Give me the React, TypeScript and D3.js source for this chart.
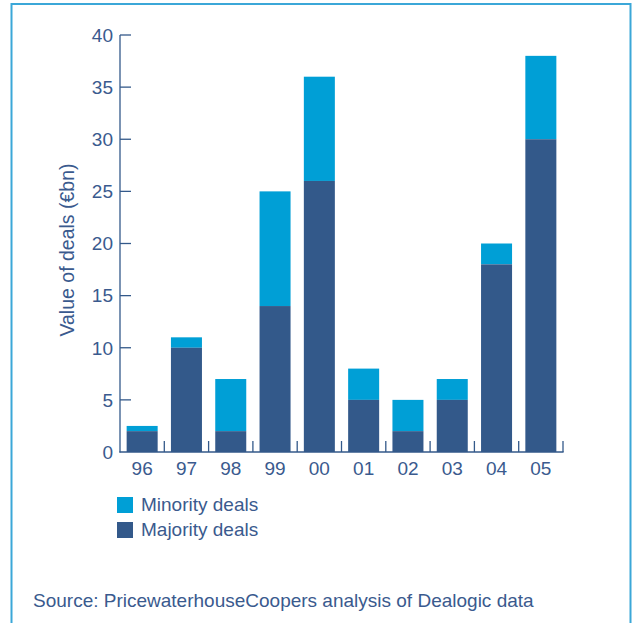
import React from "react";
import * as d3 from "d3";

const years = ["96", "97", "98", "99", "00", "01", "02", "03", "04", "05"];
const majority = [2, 10, 2, 14, 26, 5, 2, 5, 18, 30];
const totals = [2.5, 11, 7, 25, 36, 8, 5, 7, 20, 38];
const yTicks = [0, 5, 10, 15, 20, 25, 30, 35, 40];
const legendLabels = ["Minority deals", "Majority deals"];

const W = 634;
const H = 623;
const TEXT = "#3a5a8e";
const MINOR = "#009fd6";
const MAJOR = "#33598a";
const FONT = "'Liberation Sans', Arial, Helvetica, sans-serif";

export default function App() {
  const x = d3.scaleBand<string>().domain(years).range([120, 563]).paddingInner(0.3).paddingOuter(0.15);
  const y = d3.scaleLinear().domain([0, 40]).range([452, 35]);
  const step = x.step();
  const x0 = 120;
  return (
    <svg width={W} height={H} style={{ position: "absolute", left: 0, top: 0 }}>
      <rect x={0} y={0} width={W} height={H} fill="#fff" />
      <path d={`M11.5,${H} V4 H630.5 V${H}`} fill="none" stroke="#3ba7d8" strokeWidth={2} />
      {years.map((yr, i) => (
        <g key={yr}>
          <rect x={x(yr)} y={y(totals[i])} width={x.bandwidth()} height={y(majority[i]) - y(totals[i])} fill={MINOR} />
          <rect x={x(yr)} y={y(majority[i])} width={x.bandwidth()} height={y(0) - y(majority[i])} fill={MAJOR} />
          <text x={x(yr)! + x.bandwidth() / 2} y={475} textAnchor="middle" fontSize={19} fill={TEXT} fontFamily={FONT}>{yr}</text>
          <line x1={x0 + step * (i + 1)} x2={x0 + step * (i + 1)} y1={452} y2={441} stroke={MAJOR} strokeWidth={1.3} />
        </g>
      ))}
      <line x1={120} x2={120} y1={y(40)} y2={452.6} stroke={MAJOR} strokeWidth={1.3} />
      <line x1={119.4} x2={563.6} y1={452} y2={452} stroke={MAJOR} strokeWidth={1.3} />
      {yTicks.map((t) => (
        <g key={t}>
          {t > 0 && <line x1={120} x2={131} y1={y(t)} y2={y(t)} stroke={MAJOR} strokeWidth={1.3} />}
          <text x={113} y={y(t) + 6.8} textAnchor="end" fontSize={19} fill={TEXT} fontFamily={FONT}>{t}</text>
        </g>
      ))}
      <text transform={`translate(74,250) rotate(-90)`} textAnchor="middle" fontSize={19.5} fill={TEXT} fontFamily={FONT}>Value of deals (€bn)</text>
      {legendLabels.map((l, i) => (
        <g key={l}>
          <rect x={117} y={497 + i * 25} width={16} height={16} fill={i === 0 ? MINOR : MAJOR} />
          <text x={141} y={511 + i * 24.5} fontSize={19} fill={TEXT} fontFamily={FONT}>{l}</text>
        </g>
      ))}
      <text x={33} y={607} fontSize={19} fill={TEXT} fontFamily={FONT}>Source: PricewaterhouseCoopers analysis of Dealogic data</text>
    </svg>
  );
}
